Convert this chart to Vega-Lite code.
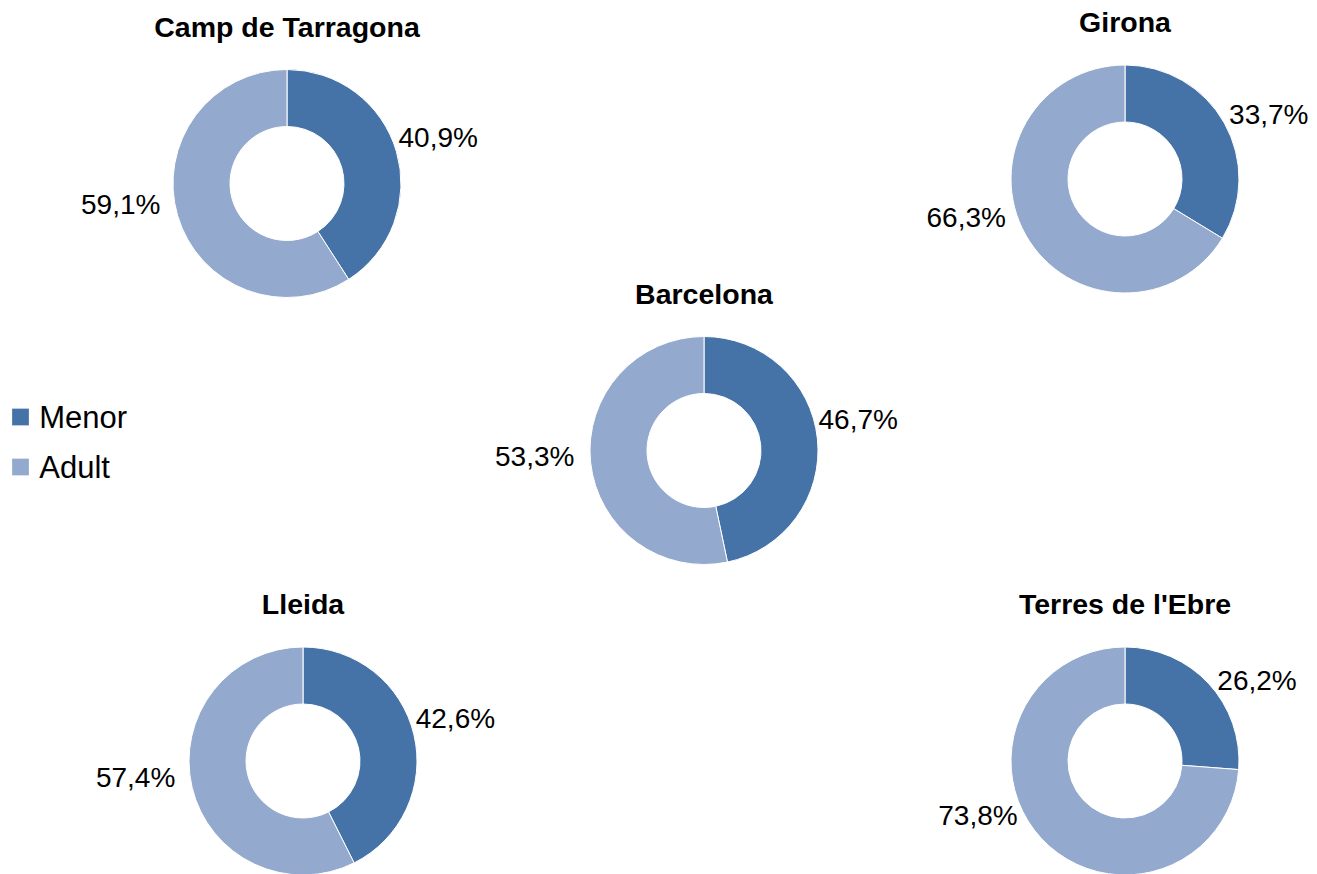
{
  "$schema": "https://vega.github.io/schema/vega-lite/v6.json",
  "padding": 0,
  "background": "white",
  "config": {
    "view": {"stroke": null},
    "font": "Liberation Sans",
    "locale": {"number": {"decimal": ",", "thousands": ".", "grouping": [3], "currency": ["", " €"]}}
  },
  "data": {
    "values": [
      {"region": "Camp de Tarragona", "category": "Menor", "share": 0.409},
      {"region": "Camp de Tarragona", "category": "Adult", "share": 0.591},
      {"region": "Girona", "category": "Menor", "share": 0.337},
      {"region": "Girona", "category": "Adult", "share": 0.663},
      {"region": "Barcelona", "category": "Menor", "share": 0.467},
      {"region": "Barcelona", "category": "Adult", "share": 0.533},
      {"region": "Lleida", "category": "Menor", "share": 0.426},
      {"region": "Lleida", "category": "Adult", "share": 0.574},
      {"region": "Terres de l'Ebre", "category": "Menor", "share": 0.262},
      {"region": "Terres de l'Ebre", "category": "Adult", "share": 0.738}
    ]
  },
  "spacing": -200,
  "vconcat": [
    {
      "bounds": "flush",
      "spacing": 359,
      "hconcat": [
        {
          "width": 574, "height": 367,
          "transform": [{"filter": "datum.region == 'Camp de Tarragona'"}],
          "encoding": {
            "theta": {"field": "share", "type": "quantitative", "stack": true},
            "order": {"field": "category", "type": "ordinal", "sort": "descending"}
          },
          "layer": [
            {"mark": {"type": "arc", "innerRadius": 57, "outerRadius": 114, "stroke": "white", "strokeWidth": 1},
             "encoding": {"color": {"field": "category", "type": "nominal", "scale": {"domain": ["Menor", "Adult"], "range": ["#4573A7", "#94A9CE"]}, "legend": null}}},
            {"mark": {"type": "text", "radius": 85, "align": "left", "baseline": "middle", "dx": 30, "dy": -21, "fontSize": 28, "color": "black"},
             "encoding": {"detail": {"field": "category"}, "text": {"field": "share", "type": "quantitative", "format": ".1%"}, "opacity": {"condition": {"test": "datum.category == 'Menor'", "value": 1}, "value": 0}}},
            {"mark": {"type": "text", "radius": 85, "align": "right", "baseline": "middle", "dx": -45, "dy": -1.5, "fontSize": 28, "color": "black"},
             "encoding": {"detail": {"field": "category"}, "text": {"field": "share", "type": "quantitative", "format": ".1%"}, "opacity": {"condition": {"test": "datum.category == 'Adult'", "value": 1}, "value": 0}}},
            {"transform": [{"filter": "datum.category == 'Menor'"}],
             "mark": {"type": "text", "align": "center", "baseline": "alphabetic", "fontSize": 28.5, "fontWeight": "bold", "color": "black"},
             "encoding": {"text": {"field": "region"}, "theta": {"value": 0}, "radius": {"value": 147}}}
          ]
        },
        {
          "width": 384, "height": 358,
          "transform": [{"filter": "datum.region == 'Girona'"}],
          "encoding": {
            "theta": {"field": "share", "type": "quantitative", "stack": true},
            "order": {"field": "category", "type": "ordinal", "sort": "descending"}
          },
          "layer": [
            {"mark": {"type": "arc", "innerRadius": 57, "outerRadius": 114, "stroke": "white", "strokeWidth": 1},
             "encoding": {"color": {"field": "category", "type": "nominal", "scale": {"domain": ["Menor", "Adult"], "range": ["#4573A7", "#94A9CE"]}, "legend": null}}},
            {"mark": {"type": "text", "radius": 85, "align": "left", "baseline": "middle", "dx": 30, "dy": -21, "fontSize": 28, "color": "black"},
             "encoding": {"detail": {"field": "category"}, "text": {"field": "share", "type": "quantitative", "format": ".1%"}, "opacity": {"condition": {"test": "datum.category == 'Menor'", "value": 1}, "value": 0}}},
            {"mark": {"type": "text", "radius": 85, "align": "right", "baseline": "middle", "dx": -45, "dy": -1.5, "fontSize": 28, "color": "black"},
             "encoding": {"detail": {"field": "category"}, "text": {"field": "share", "type": "quantitative", "format": ".1%"}, "opacity": {"condition": {"test": "datum.category == 'Adult'", "value": 1}, "value": 0}}},
            {"transform": [{"filter": "datum.category == 'Menor'"}],
             "mark": {"type": "text", "align": "center", "baseline": "alphabetic", "fontSize": 28.5, "fontWeight": "bold", "color": "black"},
             "encoding": {"text": {"field": "region"}, "theta": {"value": 0}, "radius": {"value": 147}}}
          ]
        }
      ]
    },
    {
      "spacing": 24,
      "vconcat": [
        {
          "bounds": "flush",
          "spacing": 513,
          "hconcat": [
            {
              "width": 41, "height": 150,
              "transform": [{"filter": "datum.region == 'Barcelona'"}],
              "encoding": {
                "y": {"field": "category", "type": "nominal", "sort": ["Menor", "Adult"], "axis": null, "scale": {"type": "point", "padding": 1.072}}
              },
              "layer": [
                {"mark": {"type": "point", "shape": "square", "size": 280, "filled": true, "opacity": 1, "strokeWidth": 0},
                 "encoding": {"color": {"field": "category", "type": "nominal", "scale": {"domain": ["Menor", "Adult"], "range": ["#4573A7", "#94A9CE"]}, "legend": null}}},
                {"mark": {"type": "text", "align": "left", "baseline": "middle", "dx": 18.8, "dy": 2, "fontSize": 31, "color": "black"},
                 "encoding": {"text": {"field": "category"}}}
              ]
            },
            {
              "width": 300, "height": 167,
              "transform": [{"filter": "datum.region == 'Barcelona'"}],
              "encoding": {
                "theta": {"field": "share", "type": "quantitative", "stack": true},
                "order": {"field": "category", "type": "ordinal", "sort": "descending"}
              },
              "layer": [
                {"mark": {"type": "arc", "innerRadius": 57, "outerRadius": 114, "stroke": "white", "strokeWidth": 1},
                 "encoding": {"color": {"field": "category", "type": "nominal", "scale": {"domain": ["Menor", "Adult"], "range": ["#4573A7", "#94A9CE"]}, "legend": null}}},
                {"mark": {"type": "text", "radius": 85, "align": "left", "baseline": "middle", "dx": 30, "dy": -21, "fontSize": 28, "color": "black"},
                 "encoding": {"detail": {"field": "category"}, "text": {"field": "share", "type": "quantitative", "format": ".1%"}, "opacity": {"condition": {"test": "datum.category == 'Menor'", "value": 1}, "value": 0}}},
                {"mark": {"type": "text", "radius": 85, "align": "right", "baseline": "middle", "dx": -45, "dy": -1.5, "fontSize": 28, "color": "black"},
                 "encoding": {"detail": {"field": "category"}, "text": {"field": "share", "type": "quantitative", "format": ".1%"}, "opacity": {"condition": {"test": "datum.category == 'Adult'", "value": 1}, "value": 0}}},
                {"transform": [{"filter": "datum.category == 'Menor'"}],
                 "mark": {"type": "text", "align": "center", "baseline": "alphabetic", "fontSize": 28.5, "fontWeight": "bold", "color": "black"},
                 "encoding": {"text": {"field": "region"}, "theta": {"value": 0}, "radius": {"value": 147}}}
              ]
            }
          ]
        },
        {
          "bounds": "flush",
          "spacing": 327,
          "hconcat": [
            {
              "width": 606, "height": 222,
              "transform": [{"filter": "datum.region == 'Lleida'"}],
              "encoding": {
                "theta": {"field": "share", "type": "quantitative", "stack": true},
                "order": {"field": "category", "type": "ordinal", "sort": "descending"}
              },
              "layer": [
                {"mark": {"type": "arc", "innerRadius": 57, "outerRadius": 114, "stroke": "white", "strokeWidth": 1},
                 "encoding": {"color": {"field": "category", "type": "nominal", "scale": {"domain": ["Menor", "Adult"], "range": ["#4573A7", "#94A9CE"]}, "legend": null}}},
                {"mark": {"type": "text", "radius": 85, "align": "left", "baseline": "middle", "dx": 30, "dy": -21, "fontSize": 28, "color": "black"},
                 "encoding": {"detail": {"field": "category"}, "text": {"field": "share", "type": "quantitative", "format": ".1%"}, "opacity": {"condition": {"test": "datum.category == 'Menor'", "value": 1}, "value": 0}}},
                {"mark": {"type": "text", "radius": 85, "align": "right", "baseline": "middle", "dx": -45, "dy": -1.5, "fontSize": 28, "color": "black"},
                 "encoding": {"detail": {"field": "category"}, "text": {"field": "share", "type": "quantitative", "format": ".1%"}, "opacity": {"condition": {"test": "datum.category == 'Adult'", "value": 1}, "value": 0}}},
                {"transform": [{"filter": "datum.category == 'Menor'"}],
                 "mark": {"type": "text", "align": "center", "baseline": "alphabetic", "fontSize": 28.5, "fontWeight": "bold", "color": "black"},
                 "encoding": {"text": {"field": "region"}, "theta": {"value": 0}, "radius": {"value": 147}}}
              ]
            },
            {
              "width": 384, "height": 222,
              "transform": [{"filter": "datum.region == \"Terres de l'Ebre\""}],
              "encoding": {
                "theta": {"field": "share", "type": "quantitative", "stack": true},
                "order": {"field": "category", "type": "ordinal", "sort": "descending"}
              },
              "layer": [
                {"mark": {"type": "arc", "innerRadius": 57, "outerRadius": 114, "stroke": "white", "strokeWidth": 1},
                 "encoding": {"color": {"field": "category", "type": "nominal", "scale": {"domain": ["Menor", "Adult"], "range": ["#4573A7", "#94A9CE"]}, "legend": null}}},
                {"mark": {"type": "text", "radius": 85, "align": "left", "baseline": "middle", "dx": 30, "dy": -21, "fontSize": 28, "color": "black"},
                 "encoding": {"detail": {"field": "category"}, "text": {"field": "share", "type": "quantitative", "format": ".1%"}, "opacity": {"condition": {"test": "datum.category == 'Menor'", "value": 1}, "value": 0}}},
                {"mark": {"type": "text", "radius": 85, "align": "right", "baseline": "middle", "dx": -45, "dy": -1.5, "fontSize": 28, "color": "black"},
                 "encoding": {"detail": {"field": "category"}, "text": {"field": "share", "type": "quantitative", "format": ".1%"}, "opacity": {"condition": {"test": "datum.category == 'Adult'", "value": 1}, "value": 0}}},
                {"transform": [{"filter": "datum.category == 'Menor'"}],
                 "mark": {"type": "text", "align": "center", "baseline": "alphabetic", "fontSize": 28.5, "fontWeight": "bold", "color": "black"},
                 "encoding": {"text": {"field": "region"}, "theta": {"value": 0}, "radius": {"value": 147}}}
              ]
            }
          ]
        }
      ]
    }
  ]
}
